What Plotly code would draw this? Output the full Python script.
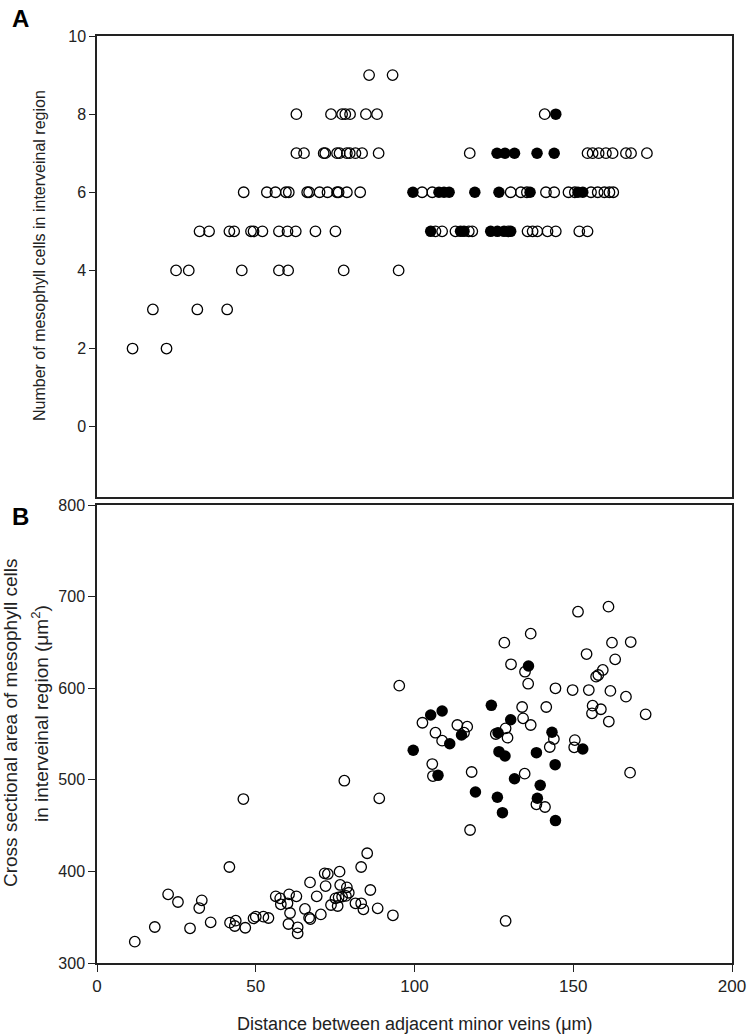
import plotly.graph_objects as go

# ---------------- Panel A: number of mesophyll cells ----------------
a_open_x = [11.2, 21.9,
            17.6, 31.6, 41.0,
            24.9, 28.9, 45.6, 57.3, 60.2, 77.7, 95.0,
            32.3, 35.3, 41.7, 43.2, 48.5, 49.3, 52.1, 57.3, 60.0, 62.6, 68.8, 75.1,
            106.6, 108.7, 112.9, 117.1, 118.2, 129.5, 135.6, 137.2, 138.7, 141.9, 144.5, 151.9, 154.5,
            46.2, 53.5, 56.2, 59.5, 60.4, 66.2, 66.8, 70.1, 72.6, 75.6, 76.1, 78.7, 82.9,
            102.4, 105.6, 130.3, 133.5, 135.4, 141.4, 144.0, 148.5, 150.5, 155.6, 157.7, 159.8, 161.4, 162.6,
            62.8, 65.2, 71.4, 71.9, 75.6, 76.4, 78.7, 79.6, 81.4, 83.5, 88.7,
            117.4, 154.5, 156.1, 158.0, 160.3, 162.4, 166.6, 168.2, 173.2,
            62.8, 73.7, 77.2, 78.2, 79.7, 84.7, 88.2, 141.0,
            85.7, 93.1]
a_open_y = ([2] * 2 + [3] * 3 + [4] * 7 + [5] * 12 + [5] * 13 + [6] * 13 + [6] * 14
            + [7] * 11 + [7] * 9 + [8] * 8 + [9] * 2)

a_fill_x = [105.1, 114.5, 115.6, 124.0, 126.1, 128.2, 130.3,
            99.5, 107.7, 109.3, 110.9, 119.0, 126.6, 136.4, 151.5, 153.0,
            126.0, 128.5, 131.5, 138.6, 144.0,
            144.5]
a_fill_y = [5] * 7 + [6] * 9 + [7] * 5 + [8] * 1

# ---------------- Panel B: cross sectional area ----------------
b_open_x = [11.9, 18.2, 22.4, 25.5, 29.3, 33.0, 32.2, 35.8, 41.7, 41.9, 43.7, 43.4, 46.7, 46.1,
            49.3, 50.0, 52.4, 54.0, 56.3, 57.7, 57.9, 60.0, 60.5, 62.8, 60.8, 60.3, 63.2, 63.2,
            65.5, 66.8, 67.2, 67.1, 69.2, 70.5, 71.7, 72.7, 72.0, 76.4, 73.7, 75.8, 75.1, 76.1,
            77.2, 78.4, 76.6, 78.7, 79.3, 77.9, 81.4, 83.2, 83.2, 83.9, 85.1, 86.1, 88.4, 88.9,
            93.2, 95.2, 102.5, 106.6, 108.7, 113.5, 116.6, 115.6, 105.6, 105.8, 118.0, 117.5,
            128.3, 136.6, 130.4, 134.8, 135.8, 133.9, 134.2, 136.6, 128.7, 125.6, 129.3, 134.7,
            128.7, 138.4, 141.1, 141.5, 144.4, 143.9, 142.6, 149.8, 150.5, 150.3, 151.5, 161.1,
            162.2, 168.1, 154.2, 163.2, 159.3, 157.9, 157.2, 154.9, 161.7, 166.6, 156.1, 158.7,
            155.9, 161.2, 172.8, 167.9]
b_open_y = [323.3, 339.3, 375.0, 366.6, 337.9, 368.4, 360.0, 344.4, 404.8, 344.0, 346.2, 340.4, 338.5, 479.0,
            348.8, 350.6, 350.6, 349.1, 372.8, 370.6, 364.1, 365.2, 375.0, 372.8, 354.6, 342.6, 339.0, 332.4,
            359.0, 349.5, 348.0, 388.0, 372.8, 353.0, 397.9, 397.2, 384.0, 399.7, 363.3, 362.2, 370.6, 371.7,
            372.4, 373.2, 385.2, 382.6, 376.7, 499.0, 365.2, 404.8, 365.2, 358.6, 419.8, 379.7, 359.7, 479.8,
            352.1, 602.8, 562.3, 551.4, 542.7, 559.8, 558.0, 551.4, 517.2, 504.1, 508.5, 445.2,
            649.7, 659.5, 626.1, 618.0, 604.9, 579.5, 567.1, 559.8, 556.2, 550.0, 546.0, 506.7,
            345.9, 473.2, 470.3, 579.5, 599.9, 544.5, 535.8, 598.0, 543.4, 535.5, 683.5, 689.0,
            649.7, 650.4, 637.3, 631.5, 619.9, 614.4, 612.6, 598.0, 597.0, 590.8, 580.9, 577.0,
            572.6, 563.6, 571.5, 507.8]

b_fill_x = [99.6, 105.1, 108.7, 111.1, 114.8, 107.4, 119.2, 124.2, 135.9, 130.3, 126.3, 126.6,
            128.5, 131.5, 126.1, 127.7, 138.4, 139.6, 138.7, 143.3, 144.3, 144.4, 153.0]
b_fill_y = [532.2, 570.7, 575.1, 539.4, 548.9, 504.9, 486.7, 581.3, 624.2, 565.6, 551.4, 530.7,
            526.0, 501.2, 480.9, 464.1, 529.6, 494.0, 479.8, 551.9, 516.5, 455.5, 533.6]

a_yticks = [0, 2, 4, 6, 8, 10]
b_xticks = [0, 50, 100, 150, 200]
b_yticks = [300, 400, 500, 600, 700, 800]

INK = "#222222"
open_marker = dict(symbol="circle-open", size=10.5, color="black", line=dict(width=1.3, color="black"))
fill_marker = dict(symbol="circle", size=11.5, color="black", line=dict(width=0))

fig = go.Figure()
fig.add_trace(go.Scatter(x=a_open_x, y=a_open_y, mode="markers", marker=open_marker,
                         xaxis="x2", yaxis="y2", showlegend=False))
fig.add_trace(go.Scatter(x=a_fill_x, y=a_fill_y, mode="markers", marker=fill_marker,
                         xaxis="x2", yaxis="y2", showlegend=False))
fig.add_trace(go.Scatter(x=b_open_x, y=b_open_y, mode="markers", marker=open_marker,
                         xaxis="x", yaxis="y", showlegend=False))
fig.add_trace(go.Scatter(x=b_fill_x, y=b_fill_y, mode="markers", marker=fill_marker,
                         xaxis="x", yaxis="y", showlegend=False))

axis_common = dict(showline=True, mirror=True, linecolor=INK, linewidth=1.5,
                   showgrid=False, zeroline=False, ticks="outside", tickcolor=INK,
                   tickwidth=1.2, automargin=False)

H_TOP, H_BOT = 36, 73
plot_h = 1036 - H_TOP - H_BOT
bottom_px = 1036 - H_BOT


def py2paper(py):
    return (bottom_px - py) / plot_h


fig.update_layout(
    width=749, height=1036,
    margin=dict(l=97, r=17, t=H_TOP, b=H_BOT),
    paper_bgcolor="white", plot_bgcolor="white",
    font=dict(family="Liberation Sans, Arial, sans-serif", color=INK),
    xaxis=dict(domain=[0, 1], range=[0, 200], anchor="y", tickvals=b_xticks,
               ticklen=7, tickfont=dict(size=17, color=INK), **axis_common),
    yaxis=dict(domain=[0, py2paper(505)], range=[300, 800], anchor="x", tickvals=b_yticks,
               ticklen=7, tickfont=dict(size=16, color=INK), **axis_common),
    xaxis2=dict(domain=[0, 1], range=[0, 200], anchor="y2", showline=True, mirror=True,
                linecolor=INK, linewidth=1.5, showgrid=False, zeroline=False,
                showticklabels=False, ticks="", automargin=False),
    yaxis2=dict(domain=[py2paper(497), 1], range=[-1.8, 10], anchor="x2", tickvals=a_yticks,
                ticklen=6, tickfont=dict(size=16, color=INK), **axis_common),
)

PW = 749 - 97 - 17


def px2paper(px):
    return (px - 97) / PW


annots = [
    dict(text="Number of mesophyll cells in interveinal region", x=px2paper(39), y=py2paper(256),
         textangle=-90, font=dict(size=16, family="Liberation Sans Narrow, Liberation Sans, Arial", color=INK)),
    dict(text="Cross sectional area of mesophyll cells",
         x=px2paper(10), y=py2paper(723), textangle=-90, font=dict(size=19, color=INK)),
    dict(text="in interveinal region (μm<sup>2</sup>)",
         x=px2paper(40), y=py2paper(714), textangle=-90, font=dict(size=19, color=INK)),
    dict(text="Distance between adjacent minor veins (μm)", x=px2paper(415), y=py2paper(1024),
         font=dict(size=18, color=INK)),
    dict(text="<b>A</b>", x=px2paper(20), y=py2paper(18), font=dict(size=24, color="black")),
    dict(text="<b>B</b>", x=px2paper(20), y=py2paper(516), font=dict(size=24, color="black")),
]
for a in annots:
    a.update(xref="paper", yref="paper", showarrow=False, xanchor="center", yanchor="middle")
fig.update_layout(annotations=annots)

fig.write_html("out.html", config={"displayModeBar": False},
               post_script="document.body.style.margin='0';document.body.style.overflow='hidden';")
